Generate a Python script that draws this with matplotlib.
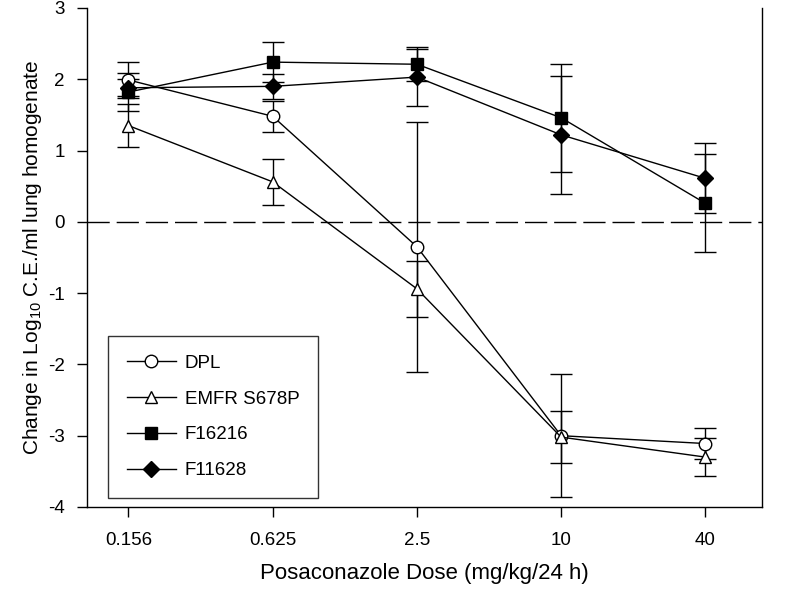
import matplotlib
matplotlib.use("Agg")
import matplotlib.pyplot as plt

plt.rcParams["font.family"] = ["Liberation Sans", "DejaVu Sans"]
plt.rcParams["mathtext.fontset"] = "custom"
plt.rcParams["mathtext.rm"] = "Liberation Sans"
plt.rcParams["axes.unicode_minus"] = False

doses = [0.156, 0.625, 2.5, 10, 40]
dose_labels = ["0.156", "0.625", "2.5", "10", "40"]

dpl = [1.99, 1.48, -0.35, -3.00, -3.11]
dpl_err = [0.25, 0.22, 1.75, 0.86, 0.22]
emfr = [1.35, 0.56, -0.94, -3.02, -3.30]
emfr_err = [0.30, 0.32, 0.39, 0.37, 0.27]
f16216 = [1.82, 2.24, 2.21, 1.46, 0.26]
f16216_err = [0.27, 0.28, 0.24, 0.76, 0.69]
f11628 = [1.88, 1.90, 2.03, 1.22, 0.61]
f11628_err = [0.12, 0.18, 0.40, 0.83, 0.49]

fig = plt.figure(figsize=(8, 5.92), dpi=100)
ax = fig.add_axes([0.109, 0.1436, 0.8435, 0.843])

ax.axhline(0, color="black", lw=1.0, dashes=(16, 5), zorder=1)

series = [
    ("DPL", dpl, dpl_err, "o", "white", 9),
    ("EMFR S678P", emfr, emfr_err, "^", "white", 9),
    ("F16216", f16216, f16216_err, "s", "black", 8.5),
    ("F11628", f11628, f11628_err, "D", "black", 8),
]
for name, vals, err, mk, fc, ms in series:
    ax.errorbar(doses, vals, yerr=err, color="black", lw=1.0, elinewidth=1.0,
                capsize=8, capthick=1.0, marker=mk, markersize=ms,
                markerfacecolor=fc, markeredgecolor="black", markeredgewidth=1.0,
                label=name, zorder=3)

ax.set_xscale("log")
ax.set_xlim(0.105, 69)
ax.set_xticks(doses)
ax.set_xticklabels(dose_labels)
ax.minorticks_off()
ax.set_ylim(-4, 3)
ax.set_yticks(range(-4, 4))

ax.spines["top"].set_visible(False)
for s in ["left", "bottom", "right"]:
    ax.spines[s].set_linewidth(1.0)
ax.tick_params(axis="both", direction="out", length=7, width=1.0, labelsize=13.5)
ax.tick_params(axis="x", pad=11)
ax.tick_params(axis="y", pad=9)

ax.set_xlabel("Posaconazole Dose (mg/kg/24 h)", fontsize=16, labelpad=10)
ax.set_ylabel("Change in Log$_{10}$ C.E./ml lung homogenate", fontsize=15, labelpad=3)

handles, labels = ax.get_legend_handles_labels()
handles = [h[0] for h in handles]
leg = ax.legend(handles, labels, loc="lower left", bbox_to_anchor=(0.031, 0.018),
                fontsize=13.5, frameon=True, fancybox=False, edgecolor="black",
                handlelength=2.6, handletextpad=0.5, borderpad=1.0,
                labelspacing=1.0, borderaxespad=0)
leg.get_frame().set_linewidth(1.0)

fig.savefig("out.png", dpi=100)
